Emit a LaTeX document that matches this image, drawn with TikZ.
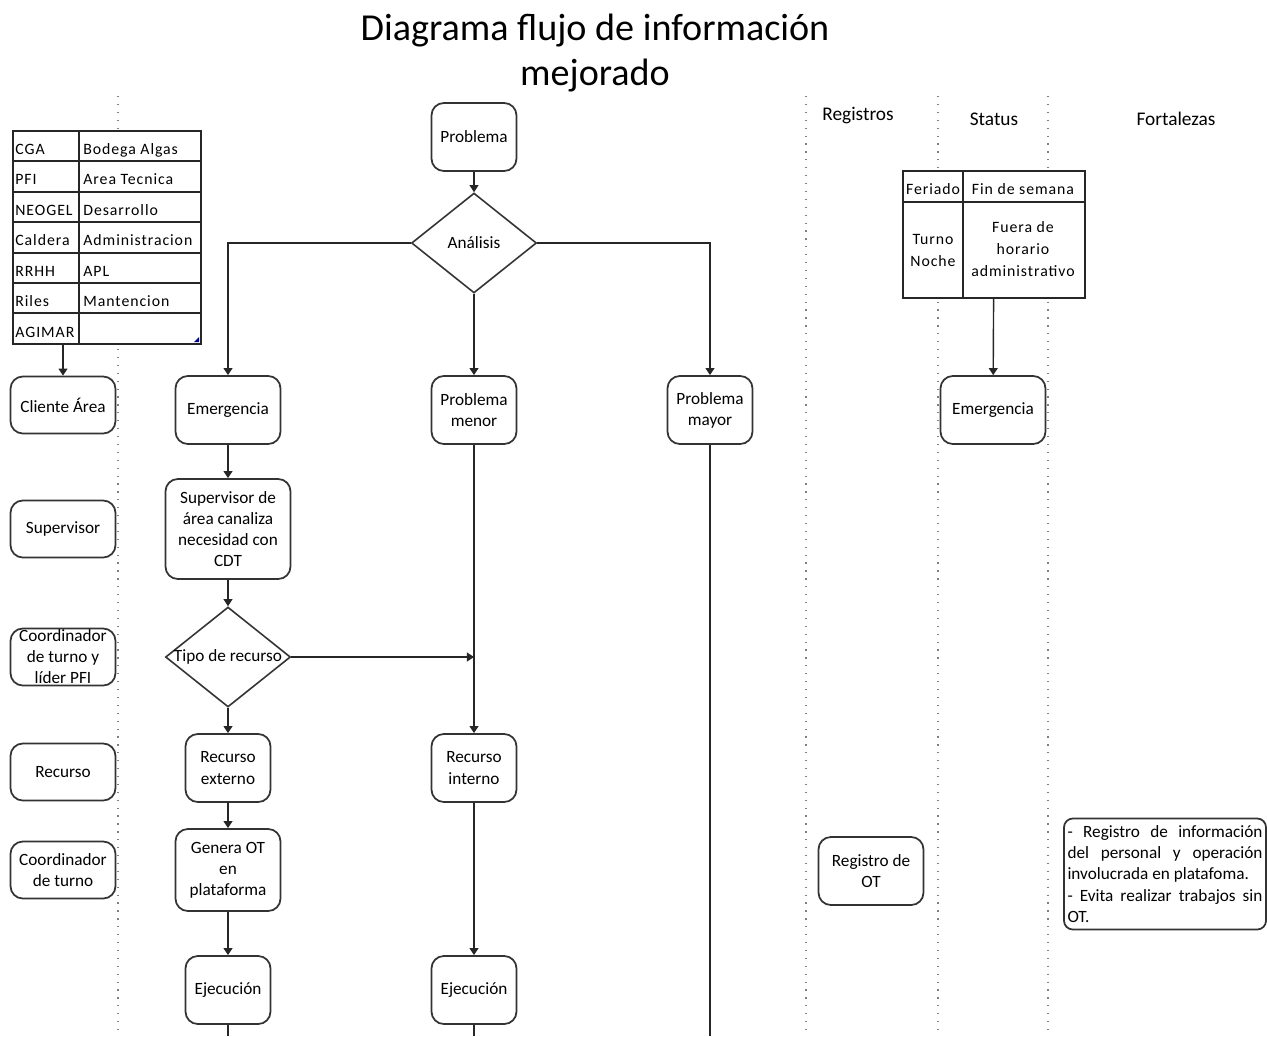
\documentclass[tikz,border=0pt]{standalone}
\usepackage{fontspec}
\setmainfont{Carlito}
\newfontfamily\celdafont[LetterSpace=6]{Carlito}
\usetikzlibrary{arrows.meta,shapes.geometric,calc}

\begin{document}
\begin{tikzpicture}[x=0.02cm,y=-0.02cm,
    font=\fontsize{9.8}{12}\selectfont,
    caja/.style={draw=black!80,fill=white,line width=1pt,rounded corners=7pt,align=center,
      minimum width=2.1cm,minimum height=1.36cm,inner sep=1pt},
    rombo/.style={draw=black!80,fill=white,line width=0.9pt,diamond,inner sep=0pt,
      minimum width=2.5cm,minimum height=2cm},
    flecha/.style={draw=black!85,line width=0.8pt,-{Triangle[length=4pt,width=5pt]}},
    linea/.style={draw=black!85,line width=0.8pt},
    carril/.style={gray,line width=0.7pt,dash pattern=on 0.7pt off 3.8pt},
    tabla/.style={draw=black!85,fill=white,line width=1.1pt,inner sep=0pt,anchor=north west},
    rejilla/.style={black!85,line width=0.8pt},
    celda/.style={font=\celdafont\fontsize{9}{12.5}\selectfont,inner sep=0pt},
    fila/.style={celda,anchor=base west},
    cabecera/.style={font=\fontsize{11}{13}\selectfont}]
  \useasboundingbox (0,0) rectangle (1267,1036);
  \foreach \x in {118,806,938,1048} \draw[carril] (\x,96) -- (\x,1036);

  \node[align=center,font=\fontsize{21.7}{25.5}\selectfont] (titulo) at (595,53) {Diagrama flujo de información\\mejorado};
  \node[cabecera] (registros) at (858,116) {Registros};
  \node[cabecera] (status) at (994,119) {Status};
  \node[cabecera] (fortalezas) at (1176,119) {Fortalezas};

  \node[tabla,minimum width=3.76cm,minimum height=4.26cm] (areas) at (12,130) {};
  \draw[rejilla] (79,130) -- (79,343);
  \foreach \y in {161,192,222,253,283,313} \draw[rejilla] (12,\y) -- (200,\y);
  \foreach \a/\b [count=\i] in {CGA/Bodega Algas,PFI/Area Tecnica,NEOGEL/Desarrollo,
      Caldera/Administracion,RRHH/APL,Riles/Mantencion} {
    \node[fila] (sigla\i) at (15,{124+30.4*\i}) {\a};
    \node[fila] (area\i) at (83,{124+30.4*\i}) {\b};
  }
  \node[fila] (sigla7) at (15,337) {AGIMAR};
  \fill[blue!60!black] (194,342) -- (199,342) -- (199,337) -- cycle;

  \node[tabla,minimum width=3.64cm,minimum height=2.54cm] (horario) at (902,170) {};
  \draw[rejilla] (963,170) -- (963,297);
  \draw[rejilla] (902,202) -- (1084,202);
  \node[celda] (feriado) at (933,189) {Feriado};
  \node[celda] (finde) at (1023,189) {Fin de semana};
  \node[celda,align=center] (noche) at (933,250) {Turno\\Noche};
  \node[celda,align=center] (fuera) at (1023,249) {Fuera de\\horario\\administrativo};

  \node[caja,minimum height=1.14cm] (cliente) at (63,405) {Cliente Área};
  \node[caja,minimum height=1.14cm] (supervisor) at (63,529) {Supervisor};
  \node[caja,minimum height=1.14cm] (coordinador) at (63,657)
    {\smash{\raisebox{-3pt}{\begin{tabular}{@{}c@{}}Coordinador\\de turno y\\líder PFI\end{tabular}}}};
  \node[caja,minimum height=1.14cm] (recurso) at (63,772) {Recurso};
  \node[caja,minimum height=1.14cm] (coordturno) at (63,870) {Coordinador\\de turno};

  \node[caja,minimum width=1.7cm] (problema) at (474,137) {Problema};
  \node[rombo,label=center:Análisis] (analisis) at (474,243) {};
  \node[caja] (emergencia) at (228,410) {Emergencia};
  \node[caja,minimum width=1.7cm] (menor) at (474,410) {Problema\\menor};
  \node[caja,minimum width=1.7cm] (mayor) at (710,410) {Problema\\mayor};
  \node[caja,minimum width=2.5cm,minimum height=2cm] (canaliza) at (228,529) {Supervisor de\\área canaliza\\necesidad con\\CDT};
  \node[rombo,label=center:Tipo de recurso] (tipo) at (228,657) {};
  \node[caja,minimum width=1.7cm] (externo) at (228,768) {Recurso\\externo};
  \node[caja,minimum width=1.7cm] (interno) at (474,768) {Recurso\\interno};
  \node[caja,minimum height=1.64cm] (genera) at (228,870) {Genera OT\\en\\plataforma};
  \node[caja,minimum width=1.7cm] (ejecA) at (228,990) {Ejecución};
  \node[caja,minimum width=1.7cm] (ejecB) at (474,990) {Ejecución};

  \node[caja] (emergencia2) at (993,410) {Emergencia};
  \node[caja] (registro) at (871,871) {Registro de\\OT};
  \node[caja,minimum width=4.02cm,minimum height=2.22cm,text width=3.9cm,align=justify,
    inner sep=2pt,rounded corners=5pt] (fortaleza) at (1165,874)
    {\hyphenpenalty=10000 - Registro de información\linebreak del personal y operación\linebreak
     involucrada en platafoma.\par - Evita realizar trabajos sin\linebreak OT.};

  \coordinate (cruce) at (474,657);
  \coordinate (finA) at (228,1036);
  \coordinate (finB) at (474,1036);
  \coordinate (finC) at (710,1036);

  \draw[flecha] (problema) -- (analisis);
  \draw[flecha] (analisis.west) -| (emergencia);
  \draw[flecha] (analisis) -- (menor);
  \draw[flecha] (analisis.east) -| (mayor);
  \draw[flecha] (emergencia) -- (canaliza);
  \draw[flecha] (canaliza) -- (tipo);
  \draw[flecha] (tipo) -- (cruce);
  \draw[flecha] (tipo) -- (externo);
  \draw[flecha] (menor) -- (interno);
  \draw[flecha] (externo) -- (genera);
  \draw[flecha] (genera) -- (ejecA);
  \draw[flecha] (interno) -- (ejecB);
  \draw[linea] (ejecA) -- (finA);
  \draw[linea] (ejecB) -- (finB);
  \draw[linea] (mayor) -- (finC);
  \draw[flecha] (areas.south -| cliente) -- (cliente);
  \draw[flecha] (horario) -- (emergencia2);
\end{tikzpicture}
\end{document}
